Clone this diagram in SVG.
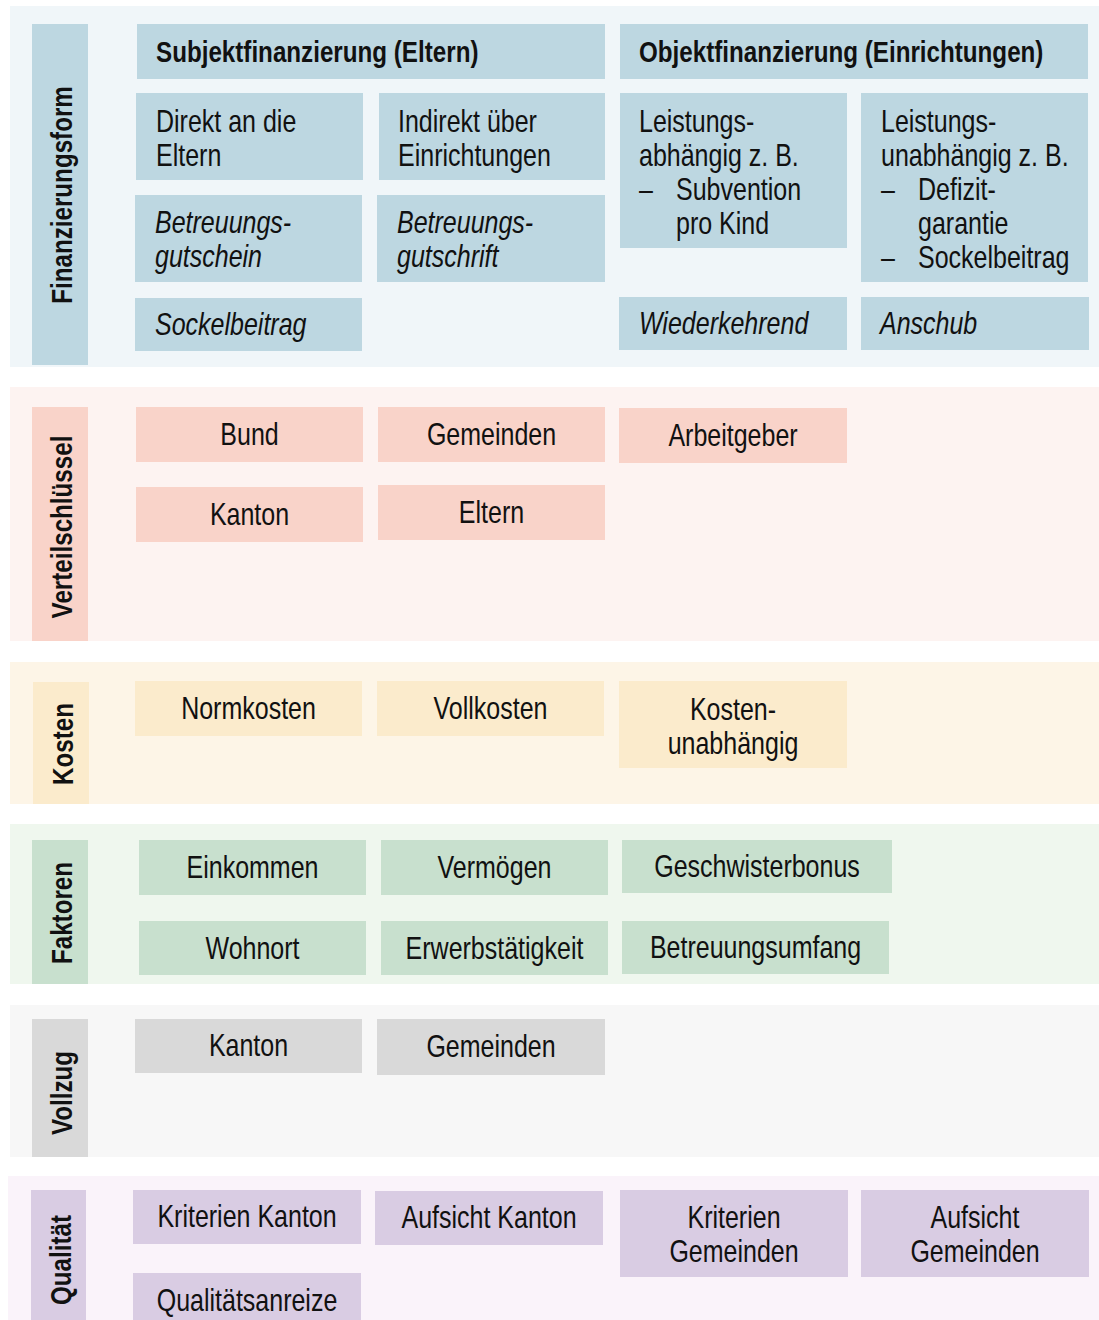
<svg xmlns="http://www.w3.org/2000/svg" width="1099" height="1320" viewBox="0 0 1099 1320">
<style>
text{font-family:"Liberation Sans",Arial,sans-serif;font-size:30.5px;fill:#111}
.b{font-weight:bold;font-size:29.5px}
.i{font-style:italic}
.c{text-anchor:middle}
.lab{font-weight:bold;font-size:29.5px;text-anchor:middle}
.s1{fill:#f0f6f9}.n1{fill:#bdd7e1}
.s2{fill:#fdf3f1}.n2{fill:#f9d3c9}
.s3{fill:#fdf5e7}.n3{fill:#fbebcc}
.s4{fill:#eff7ee}.n4{fill:#c8e0ce}
.s5{fill:#f7f7f7}.n5{fill:#d9d9d9}
.s6{fill:#faf3fa}.n6{fill:#d9cce3}
</style>
<rect width="1099" height="1320" fill="#ffffff"/>
<g id="connectors"/>

<g id="sec-finanzierungsform">
<rect class="s1" x="10" y="6" width="1089" height="361"/>
<rect class="n1" x="32" y="24" width="56" height="341"/>
<text class="lab" transform="translate(72,195) rotate(-90) scale(.82,1)">Finanzierungsform</text>
</g>
<g id="n-subjekt"><rect class="n1" x="137" y="24" width="468" height="55"/><text class="b" transform="translate(156,62) scale(.82,1)">Subjektfinanzierung (Eltern)</text></g>
<g id="n-objekt"><rect class="n1" x="620" y="24" width="468" height="55"/><text class="b" transform="translate(639,62) scale(.82,1)">Objektfinanzierung (Einrichtungen)</text></g>
<g id="n-direkt"><rect class="n1" x="136" y="93" width="227" height="87"/><text transform="translate(156,132) scale(.82,1)">Direkt an die</text><text transform="translate(156,166) scale(.82,1)">Eltern</text></g>
<g id="n-indirekt"><rect class="n1" x="379" y="93" width="226" height="87"/><text transform="translate(398,132) scale(.82,1)">Indirekt über</text><text transform="translate(398,166) scale(.82,1)">Einrichtungen</text></g>
<g id="n-gutschein"><rect class="n1" x="135" y="195" width="227" height="87"/><text class="i" transform="translate(155,233) scale(.82,1)">Betreuungs-</text><text class="i" transform="translate(155,267) scale(.82,1)">gutschein</text></g>
<g id="n-gutschrift"><rect class="n1" x="377" y="195" width="228" height="87"/><text class="i" transform="translate(397,233) scale(.82,1)">Betreuungs-</text><text class="i" transform="translate(397,267) scale(.82,1)">gutschrift</text></g>
<g id="n-sockel1"><rect class="n1" x="135" y="298" width="227" height="53"/><text class="i" transform="translate(155,335) scale(.82,1)">Sockelbeitrag</text></g>
<g id="n-abh"><rect class="n1" x="620" y="93" width="227" height="155"/><text transform="translate(639,132) scale(.82,1)">Leistungs-</text><text transform="translate(639,166) scale(.82,1)">abhängig z. B.</text><text transform="translate(639,200) scale(.82,1)">–</text><text transform="translate(676,200) scale(.82,1)">Subvention</text><text transform="translate(676,234) scale(.82,1)">pro Kind</text></g>
<g id="n-unabh"><rect class="n1" x="861" y="93" width="227" height="189"/><text transform="translate(881,132) scale(.82,1)">Leistungs-</text><text transform="translate(881,166) scale(.82,1)">unabhängig z. B.</text><text transform="translate(881,200) scale(.82,1)">–</text><text transform="translate(918,200) scale(.82,1)">Defizit-</text><text transform="translate(918,234) scale(.82,1)">garantie</text><text transform="translate(881,268) scale(.82,1)">–</text><text transform="translate(918,268) scale(.82,1)">Sockelbeitrag</text></g>
<g id="n-wieder"><rect class="n1" x="619" y="297" width="228" height="53"/><text class="i" transform="translate(639,334) scale(.82,1)">Wiederkehrend</text></g>
<g id="n-anschub"><rect class="n1" x="861" y="297" width="228" height="53"/><text class="i" transform="translate(880,334) scale(.82,1)">Anschub</text></g>

<g id="sec-verteil">
<rect class="s2" x="10" y="387" width="1089" height="254"/>
<rect class="n2" x="32" y="407" width="56" height="234"/>
<text class="lab" transform="translate(72,527) rotate(-90) scale(.82,1)">Verteilschlüssel</text>
</g>
<g id="n-bund"><rect class="n2" x="136" y="407" width="227" height="55"/><text class="c" transform="translate(249.5,445) scale(.82,1)">Bund</text></g>
<g id="n-gemeinden2"><rect class="n2" x="378" y="407" width="227" height="55"/><text class="c" transform="translate(491.5,445) scale(.82,1)">Gemeinden</text></g>
<g id="n-arbeitgeber"><rect class="n2" x="619" y="408" width="228" height="55"/><text class="c" transform="translate(733,446) scale(.82,1)">Arbeitgeber</text></g>
<g id="n-kanton2"><rect class="n2" x="136" y="487" width="227" height="55"/><text class="c" transform="translate(249.5,525) scale(.82,1)">Kanton</text></g>
<g id="n-eltern2"><rect class="n2" x="378" y="485" width="227" height="55"/><text class="c" transform="translate(491.5,523) scale(.82,1)">Eltern</text></g>

<g id="sec-kosten">
<rect class="s3" x="10" y="662" width="1089" height="142"/>
<rect class="n3" x="33" y="682" width="56" height="122"/>
<text class="lab" transform="translate(73,744) rotate(-90) scale(.82,1)">Kosten</text>
</g>
<g id="n-norm"><rect class="n3" x="135" y="681" width="227" height="55"/><text class="c" transform="translate(248.5,719) scale(.82,1)">Normkosten</text></g>
<g id="n-voll"><rect class="n3" x="377" y="681" width="227" height="55"/><text class="c" transform="translate(490.5,719) scale(.82,1)">Vollkosten</text></g>
<g id="n-kunabh"><rect class="n3" x="619" y="681" width="228" height="87"/><text class="c" transform="translate(733,720) scale(.82,1)">Kosten-</text><text class="c" transform="translate(733,754) scale(.82,1)">unabhängig</text></g>

<g id="sec-faktoren">
<rect class="s4" x="10" y="824" width="1089" height="160"/>
<rect class="n4" x="32" y="840" width="56" height="144"/>
<text class="lab" transform="translate(72,913) rotate(-90) scale(.82,1)">Faktoren</text>
</g>
<g id="n-einkommen"><rect class="n4" x="139" y="840" width="227" height="55"/><text class="c" transform="translate(252.5,878) scale(.82,1)">Einkommen</text></g>
<g id="n-vermoegen"><rect class="n4" x="381" y="840" width="227" height="55"/><text class="c" transform="translate(494.5,878) scale(.82,1)">Vermögen</text></g>
<g id="n-geschwister"><rect class="n4" x="622" y="840" width="270" height="53"/><text class="c" transform="translate(757,877) scale(.82,1)">Geschwisterbonus</text></g>
<g id="n-wohnort"><rect class="n4" x="139" y="921" width="227" height="54"/><text class="c" transform="translate(252.5,959) scale(.82,1)">Wohnort</text></g>
<g id="n-erwerb"><rect class="n4" x="381" y="921" width="227" height="54"/><text class="c" transform="translate(494.5,959) scale(.82,1)">Erwerbstätigkeit</text></g>
<g id="n-umfang"><rect class="n4" x="622" y="921" width="267" height="53"/><text class="c" transform="translate(755.5,958) scale(.82,1)">Betreuungsumfang</text></g>

<g id="sec-vollzug">
<rect class="s5" x="10" y="1005" width="1089" height="152"/>
<rect class="n5" x="32" y="1019" width="56" height="138"/>
<text class="lab" transform="translate(72,1093) rotate(-90) scale(.82,1)">Vollzug</text>
</g>
<g id="n-kanton5"><rect class="n5" x="135" y="1019" width="227" height="54"/><text class="c" transform="translate(248.5,1056) scale(.82,1)">Kanton</text></g>
<g id="n-gemeinden5"><rect class="n5" x="377" y="1019" width="228" height="56"/><text class="c" transform="translate(491,1057) scale(.82,1)">Gemeinden</text></g>

<g id="sec-qualitaet">
<rect class="s6" x="8" y="1176" width="1091" height="144"/>
<rect class="n6" x="31" y="1190" width="55" height="130"/>
<text class="lab" transform="translate(71,1260) rotate(-90) scale(.82,1)">Qualität</text>
</g>
<g id="n-kritkanton"><rect class="n6" x="133" y="1190" width="228" height="54"/><text class="c" transform="translate(247,1227) scale(.82,1)">Kriterien Kanton</text></g>
<g id="n-aufkanton"><rect class="n6" x="375" y="1191" width="228" height="54"/><text class="c" transform="translate(489,1228) scale(.82,1)">Aufsicht Kanton</text></g>
<g id="n-kritgem"><rect class="n6" x="620" y="1190" width="228" height="87"/><text class="c" transform="translate(734,1228) scale(.82,1)">Kriterien</text><text class="c" transform="translate(734,1262) scale(.82,1)">Gemeinden</text></g>
<g id="n-aufgem"><rect class="n6" x="861" y="1190" width="228" height="87"/><text class="c" transform="translate(975,1228) scale(.82,1)">Aufsicht</text><text class="c" transform="translate(975,1262) scale(.82,1)">Gemeinden</text></g>
<g id="n-anreize"><rect class="n6" x="133" y="1273" width="228" height="47"/><text class="c" transform="translate(247,1311) scale(.82,1)">Qualitätsanreize</text></g>
</svg>
